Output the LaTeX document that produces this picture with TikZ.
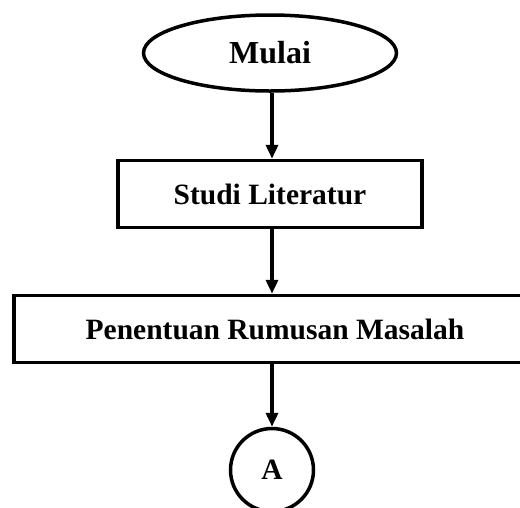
\documentclass[tikz,border=0pt]{standalone}
\usepackage{fontspec}
\setmainfont{Liberation Serif}
\usetikzlibrary{arrows.meta,shapes.geometric}
\begin{document}
\begin{tikzpicture}[x=1pt,y=-1pt,
  every node/.style={font=\fontsize{29.5}{32}\selectfont\bfseries, line width=3.5pt, draw=black, inner sep=0pt},
  term/.style={ellipse, minimum width=253pt, minimum height=76pt, font=\fontsize{32}{34}\selectfont\bfseries},
  procbox/.style={rectangle, minimum height=67pt},
  conn/.style={circle, minimum size=83pt},
  flow/.style={line width=3.5pt, -{Triangle[width=12pt,length=14pt]}}]
\useasboundingbox (0,0) rectangle (520,507);
\node[term] (mulai) at (270,53) {Mulai};
\node[procbox, minimum width=304pt] (studi) at (270,194) {Studi Literatur};
\node[procbox, minimum width=522pt] (rumus) at (275,329) {Penentuan Rumusan Masalah};
\node[conn] (a) at (272,470) {A};
\draw[flow] (mulai.south -| 272,0) -- (studi.north -| 272,0);
\draw[flow] (studi.south -| 272,0) -- (rumus.north -| 272,0);
\draw[flow] (rumus.south -| 272,0) -- (a.north);
\end{tikzpicture}
\end{document}
